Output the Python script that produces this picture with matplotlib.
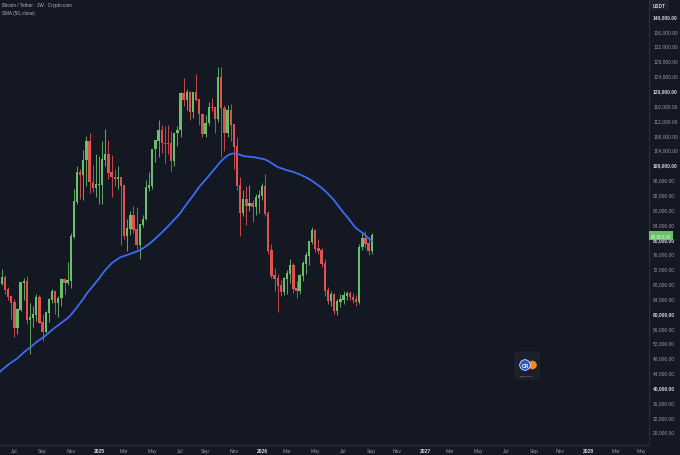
import numpy as np
import pandas as pd
import matplotlib
matplotlib.use("Agg")
import matplotlib.pyplot as plt
import matplotlib.dates as mdates
from matplotlib.patches import FancyBboxPatch, Circle

plt.rcParams['font.family'] = ['Liberation Sans', 'DejaVu Sans']

# weekly closes before the visible window (only for the 50 week SMA), k USDT
pre_closes = [25.1, 26.3, 30.5, 30.6, 30.2, 30.2, 29.8, 29.3, 29.0, 29.3,
              26.1, 26.0, 25.8, 25.8, 26.5, 26.5, 27.9, 27.9, 26.9, 29.9,
              34.5, 35.0, 37.1, 37.4, 37.4, 39.5, 43.8, 41.4, 43.0, 42.3,
              43.9, 41.7, 41.6, 42.0, 43.0, 48.3, 52.1, 51.7, 63.1, 68.9,
              68.4, 67.2, 69.6, 69.4, 65.7, 64.9, 63.1, 63.9, 61.5, 66.3, 68.5]

# visible weekly candles, first week 2024-05-27, k USDT
opens = [68.5, 67.8, 69.6, 66.2, 64.3, 62.7, 55.9, 60.8, 68.2, 68.3,
         58.1, 58.7, 59.5, 64.2, 57.3, 54.8, 60.0, 63.6, 65.6, 62.8,
         63.9, 69.0, 68.0, 68.7, 80.4, 89.9, 97.9, 97.3, 101.1, 106.1,
         95.2, 93.7, 94.5, 94.5, 101.3, 102.6, 97.7, 96.5, 96.1, 96.3,
         94.2, 80.7, 82.6, 86.1, 82.4, 78.4, 83.8, 85.2, 93.7, 94.3,
         104.1, 106.4, 109.0, 105.7, 105.6, 105.5, 100.9, 108.4, 109.2, 119.1,
         117.3, 119.4, 114.2, 119.3, 117.4, 113.5, 108.2, 111.1, 115.3, 115.2,
         112.2, 123.5, 115.1, 108.6, 114.5, 110.6, 104.7, 94.2, 86.8, 90.4,
         88.9, 89.3, 88.6, 91.0, 91.6, 93.9, 86.6, 76.7, 70.0, 69.1,
         67.3, 65.6, 69.2, 70.5, 72.7, 66.5, 66.0, 70.0, 73.2, 75.4,
         79.1, 82.1, 77.3, 76.7, 73.2, 65.9, 63.2, 64.8, 60.5, 62.9,
         63.6, 64.6, 65.2, 64.2, 63.6, 63.0, 77.7, 79.9, 78.6, 76.6]
highs = [70.0, 71.9, 70.2, 66.9, 64.5, 63.8, 61.4, 68.4, 69.4, 70.0,
         62.7, 61.8, 65.0, 64.9, 59.8, 60.6, 64.1, 66.5, 65.7, 64.5,
         69.4, 69.5, 73.6, 81.5, 93.4, 99.6, 98.7, 104.0, 107.8, 108.4,
         99.9, 102.7, 102.3, 106.4, 109.6, 106.5, 102.5, 98.8, 99.5, 96.5,
         94.4, 85.3, 87.5, 88.8, 88.5, 83.9, 86.5, 95.8, 97.9, 104.3,
         106.6, 111.9, 110.7, 110.4, 110.6, 108.9, 108.5, 110.5, 119.5, 123.2,
         120.2, 119.8, 119.3, 124.5, 117.6, 113.6, 113.4, 116.7, 117.9, 115.4,
         126.2, 126.2, 115.9, 116.0, 116.4, 110.8, 107.5, 96.6, 93.1, 94.2,
         94.6, 90.4, 92.0, 93.0, 95.0, 97.4, 87.5, 78.5, 72.0, 70.5,
         69.0, 69.8, 71.5, 74.5, 73.5, 68.5, 70.5, 74.0, 76.5, 79.5,
         83.2, 82.5, 80.0, 77.5, 74.5, 67.0, 66.0, 65.5, 63.8, 65.0,
         65.8, 66.0, 66.0, 65.5, 64.8, 78.5, 81.5, 82.0, 80.5, 81.5]
lows = [66.6, 67.6, 65.1, 63.4, 58.4, 53.5, 54.3, 60.6, 63.5, 57.1,
        49.0, 56.1, 57.8, 57.2, 52.5, 54.6, 57.5, 62.7, 59.8, 58.9,
        62.0, 65.1, 67.5, 66.8, 80.2, 89.4, 90.7, 90.5, 94.2, 92.2,
        92.5, 91.3, 89.3, 89.3, 99.5, 96.2, 91.2, 94.1, 93.4, 78.2,
        80.0, 76.6, 81.1, 81.6, 77.1, 74.5, 83.1, 85.1, 92.8, 93.4,
        100.7, 102.0, 103.1, 100.3, 102.7, 98.2, 99.6, 105.1, 107.5, 115.7,
        114.7, 112.0, 112.6, 117.1, 110.6, 107.3, 107.3, 110.6, 114.4, 108.6,
        111.5, 102.0, 103.5, 107.4, 106.3, 98.9, 93.0, 80.6, 86.2, 83.8,
        87.5, 84.5, 86.5, 87.0, 90.5, 86.0, 76.0, 69.5, 66.0, 60.3,
        64.5, 64.8, 65.0, 68.0, 65.5, 64.0, 65.0, 68.5, 70.5, 73.0,
        78.5, 76.5, 76.0, 72.5, 64.5, 62.5, 62.0, 59.8, 59.5, 61.5,
        62.5, 63.5, 63.5, 62.8, 62.0, 62.5, 77.0, 77.5, 75.5, 75.8]
closes = [67.8, 69.6, 66.2, 64.3, 62.7, 55.9, 60.8, 68.2, 68.3, 58.1,
          58.7, 59.5, 64.2, 57.3, 54.8, 60.0, 63.6, 65.6, 62.8, 63.9,
          69.0, 68.0, 68.7, 80.4, 89.9, 97.9, 97.3, 101.1, 106.1, 95.2,
          93.7, 94.5, 94.6, 101.3, 102.6, 97.7, 96.5, 96.1, 96.3, 94.2,
          80.7, 82.6, 86.1, 82.4, 78.4, 83.8, 85.2, 93.7, 94.3, 104.1,
          106.4, 109.0, 105.7, 105.6, 105.5, 100.9, 108.4, 109.2, 119.1, 117.3,
          119.4, 114.2, 119.3, 117.4, 113.5, 108.2, 111.1, 115.3, 115.2, 112.2,
          123.5, 115.1, 108.6, 114.5, 110.6, 104.7, 94.2, 86.8, 90.4, 88.9,
          89.3, 88.6, 91.0, 91.6, 93.9, 86.6, 76.7, 70.0, 69.1, 67.3,
          65.6, 69.2, 70.5, 72.7, 66.5, 66.0, 70.0, 73.2, 75.4, 79.1,
          82.1, 77.3, 76.7, 73.2, 65.9, 63.2, 64.8, 60.5, 62.9, 63.6,
          64.6, 65.2, 64.2, 63.6, 63.0, 77.7, 79.9, 78.6, 76.6, 80.9]

bg = '#141823'
up_col = '#6cbf6a'
down_col = '#e2504f'
sma_col = '#3b6cf2'

o = np.array(opens) * 1000
h = np.array(highs) * 1000
l = np.array(lows) * 1000
c = np.array(closes) * 1000
dates = pd.date_range('2024-05-27', periods=len(c), freq='7D')
pre_dates = pd.date_range(end='2024-05-20', periods=len(pre_closes), freq='7D')

all_close = pd.Series(np.r_[np.array(pre_closes) * 1000, c], index=pre_dates.append(dates))
sma = all_close.rolling(50).mean()

fig = plt.figure(figsize=(6.8, 4.56), dpi=100, facecolor=bg)
ax = fig.add_axes([0, 10 / 456, 649 / 680, 446 / 456])
ax.set_facecolor(bg)

x = mdates.date2num(dates)
up = c >= o
cols = np.where(up, up_col, down_col)
ax.vlines(x, l, h, colors=cols, linewidth=0.6, zorder=2)
ax.bar(x, np.abs(c - o) + 200, bottom=np.minimum(o, c), width=5.2, color=cols,
       linewidth=0, zorder=3)
ax.plot(mdates.date2num(sma.index), sma.values, color=sma_col, lw=1.3, zorder=4)

x0 = pd.Timestamp('2025-01-06') - pd.Timedelta(days=99 / 3.135 * 7)
x1 = pd.Timestamp('2025-01-06') + pd.Timedelta(days=(649 - 99) / 3.135 * 7)
ax.set_xlim(mdates.date2num(x0), mdates.date2num(x1))
ax.set_ylim(24430, 144580)

for s in ['top', 'left']:
    ax.spines[s].set_visible(False)
ax.spines['right'].set_color('#2a2e39')
ax.spines['bottom'].set_color('#2a2e39')
ax.spines['right'].set_linewidth(0.8)
ax.spines['bottom'].set_linewidth(0.8)

# price axis
yt = list(range(28000, 141000, 4000))
ax.yaxis.tick_right()
ax.set_yticks(yt)
ax.set_yticklabels(['{:,.2f}'.format(v) for v in yt])
ax.tick_params(axis='y', length=0, pad=3, labelsize=3.5, labelcolor='#9598a1')
for lab, v in zip(ax.get_yticklabels(), yt):
    if v % 20000 == 0:
        lab.set_fontweight('bold')
        lab.set_color('#d1d4dc')

# time axis, first weekly bar of every second month
months = pd.date_range('2024-07-01', '2028-05-31', freq='2MS')
tick_dates = []
tick_labels = []
for m in months:
    first_mon = m + pd.Timedelta(days=(7 - m.weekday()) % 7)
    tick_dates.append(mdates.date2num(first_mon))
    tick_labels.append(str(m.year) if m.month == 1 else m.strftime('%b'))
ax.set_xticks(tick_dates)
ax.set_xticklabels(tick_labels)
ax.tick_params(axis='x', length=0, pad=2.5, labelsize=3.6, labelcolor='#9598a1')
for lab, t in zip(ax.get_xticklabels(), tick_labels):
    if t.isdigit():
        lab.set_fontweight('bold')
        lab.set_color('#d1d4dc')

# header
fig.text(2.5 / 680, 1 - 5 / 456, 'Bitcoin / Tether · 1W · Crypto.com', fontsize=3.3,
         color='#b2b5be', va='center', ha='left')
fig.text(2.5 / 680, 1 - 13 / 456, 'SMA (50, close)', fontsize=3.3,
         color='#b2b5be', va='center', ha='left')

# currency and last price tags
fig.text(653 / 680, 1 - 6 / 456, 'USDT', fontsize=3.4, color='#d1d4dc', va='center',
         ha='left', fontweight='bold',
         bbox=dict(boxstyle='square,pad=0.6', fc='#1e222d', ec='none'))
ax.annotate('{:,.2f}'.format(c[-1]), xy=(1.0, c[-1]), xycoords=('axes fraction', 'data'),
            xytext=(1.5, 0), textcoords='offset points', fontsize=3.3, color='#e8f5e8',
            va='center', ha='left', annotation_clip=False,
            bbox=dict(boxstyle='square,pad=0.4', fc=up_col, ec='none'), zorder=10)

# watermark logo
fig.patches.append(FancyBboxPatch((515 / 680, 1 - 380 / 456), 24 / 680, 27 / 456,
                                  boxstyle='round,pad=0,rounding_size=0.004',
                                  transform=fig.transFigure, fc='#1b1f2b', ec='#2a2e39',
                                  lw=0.4))
fig.patches.append(Circle((532.5, 456 - 366), 4.3, transform=None, fc='#f08a24', ec='none'))
fig.patches.append(Circle((525, 456 - 366), 5.3, transform=None, fc='#2b55d9', ec='white',
                          lw=0.5))
fig.text(525 / 680, 1 - 366 / 456, 'CR', fontsize=3.6, color='white', fontweight='bold',
         ha='center', va='center')
fig.text(527 / 680, 1 - 376.5 / 456, '@cryptorover', fontsize=1.6, color='#b2b5be',
         ha='center', va='center')

fig.savefig('out.png', dpi=100, facecolor=bg)
